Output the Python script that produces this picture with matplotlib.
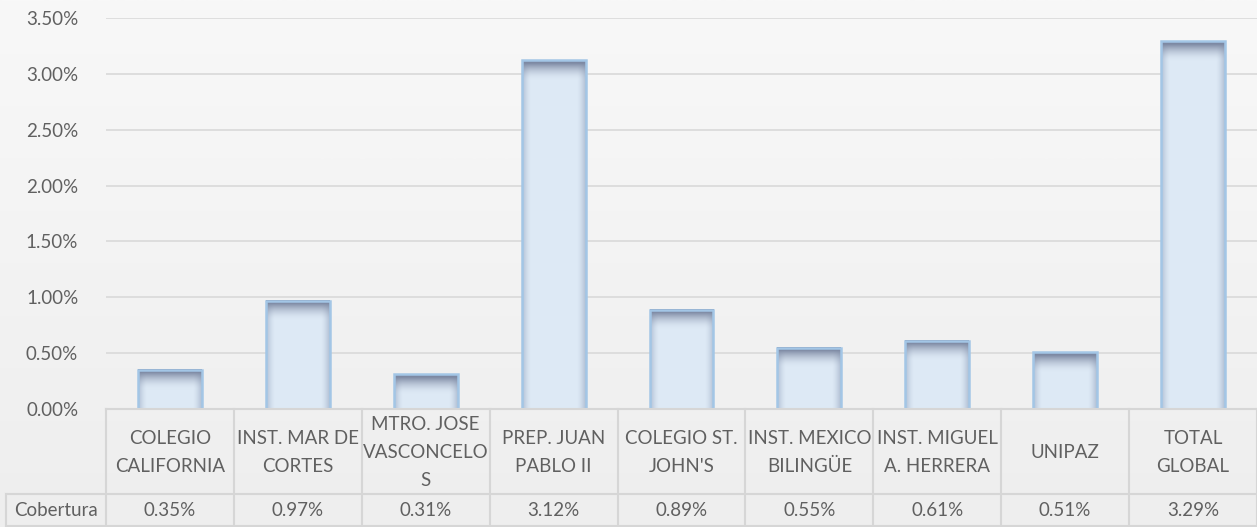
import matplotlib.pyplot as plt
import numpy as np
from matplotlib.colors import to_rgb

categories = ["COLEGIO\nCALIFORNIA", "INST. MAR DE\nCORTES", "MTRO. JOSE\nVASCONCELO\nS",
              "PREP. JUAN\nPABLO II", "COLEGIO ST.\nJOHN'S", "INST. MEXICO\nBILINGÜE",
              "INST. MIGUEL\nA. HERRERA", "UNIPAZ", "TOTAL\nGLOBAL"]
cobertura = [0.35, 0.97, 0.31, 3.12, 0.89, 0.55, 0.61, 0.51, 3.29]
value_labels = ["0.35%", "0.97%", "0.31%", "3.12%", "0.89%", "0.55%", "0.61%", "0.51%", "3.29%"]
series_name = "Cobertura"
yticks = [0.0, 0.5, 1.0, 1.5, 2.0, 2.5, 3.0, 3.5]

W, H = 1257, 527
txt = "#606060"
grid = "#d9d9d9"
fs = 13.5
plt.rcParams["font.family"] = ["Lato", "DejaVu Sans"]

fig = plt.figure(figsize=(W / 100, H / 100), dpi=100)

# background gradient
bg = fig.add_axes([0, 0, 1, 1], zorder=-10)
g = np.linspace(0, 1, 256)[:, None]
top, bot = np.array(to_rgb("#f8f8f8")), np.array(to_rgb("#eeeeee"))
bg.imshow((top * (1 - g) + bot * g)[:, None, :].repeat(2, axis=1), aspect="auto",
          extent=[0, 1, 0, 1])
bg.axis("off")

x0, x1 = 106, 1257
y_top, y_zero = 18, 409
ax = fig.add_axes([x0 / W, 1 - y_zero / H, (x1 - x0) / W, (y_zero - y_top) / H])
ax.patch.set_alpha(0)
n = len(cobertura)
ax.set_yticks(yticks)
ax.set_yticklabels([f"{v:.2f}%" for v in yticks], color=txt, fontsize=fs)
ax.tick_params(axis="y", length=0, pad=20)
ax.set_xticks([])
for s in ax.spines.values():
    s.set_visible(False)
for v in yticks[1:]:
    ax.axhline(v, color=grid, lw=1.2, zorder=0)

# bars with shaded fill and dark top cap
bw = 0.5
px_per_unit = (y_zero - y_top) / 3.5
fill = np.array(to_rgb("#dde9f5"))
side = np.array(to_rgb("#b2c0d4"))
capc = np.array(to_rgb("#7d89a3"))
for i, v in enumerate(cobertura):
    hpx = int(round(v * px_per_unit))
    xs = np.linspace(-1, 1, 64)
    hshade = np.clip((np.abs(xs) - 0.72) / 0.28, 0, 1) ** 1.6
    dpx = np.arange(hpx) + 0.5
    vshade = np.clip(1 - (dpx - 3) / 17, 0, 1) ** 1.8
    base = fill[None, None, :] * (1 - hshade[None, :, None]) + side[None, None, :] * hshade[None, :, None]
    img = base * (1 - vshade[:, None, None]) + capc[None, None, :] * vshade[:, None, None]
    ax.imshow(img, extent=[i - bw / 2, i + bw / 2, 0, v], aspect="auto", zorder=2,
              interpolation="nearest")
    ax.add_patch(plt.Rectangle((i - bw / 2, 0), bw, v, fill=False, ec="#a3c6e6", lw=1.8, zorder=3))
ax.set_xlim(-0.5, n - 0.5)
ax.set_ylim(0, 3.5)

# data table below the plot
tb = fig.add_axes([0, 0, 1, 1], zorder=5)
tb.set_xlim(0, W)
tb.set_ylim(H, 0)
tb.axis("off")
row_mid = 494
colw = (x1 - x0) / n
lc = "#d6d6d6"
tb.plot([x0, x1], [y_zero, y_zero], color=lc, lw=1.5)
tb.plot([6, x1], [row_mid, row_mid], color=lc, lw=1.5)
tb.plot([6, x1], [H - 1, H - 1], color=lc, lw=1.5)
tb.plot([6, 6], [row_mid, H], color=lc, lw=1.5)
for k in range(n + 1):
    xx = x0 + k * colw
    tb.plot([xx, xx], [y_zero, H], color=lc, lw=1.5)
for k in range(n):
    cx = x0 + (k + 0.5) * colw
    tb.text(cx, (y_zero + row_mid) / 2 + 1, categories[k], ha="center", va="center",
            color=txt, fontsize=fs, linespacing=1.75)
    tb.text(cx, (row_mid + H) / 2, value_labels[k], ha="center", va="center",
            color=txt, fontsize=fs)
tb.text((6 + x0) / 2, (row_mid + H) / 2, series_name, ha="center", va="center",
        color=txt, fontsize=fs)

fig.savefig("out.png", dpi=100)
